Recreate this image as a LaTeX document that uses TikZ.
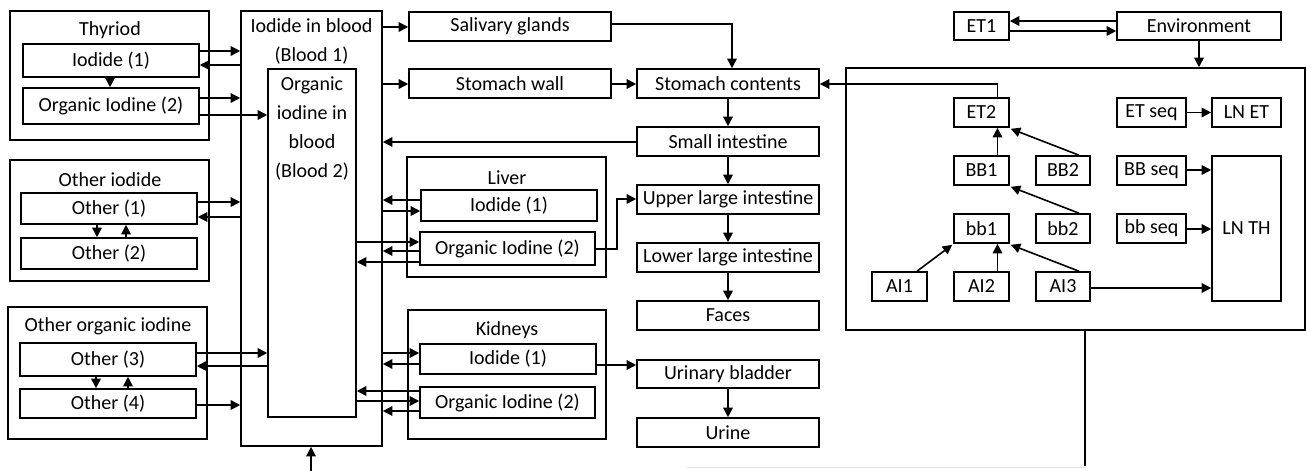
\documentclass[tikz,border=0pt]{standalone}
\usepackage{fontspec}
\setmainfont{Carlito}
\usetikzlibrary{arrows.meta,calc}
\tikzset{
 box/.style={draw, line width=1.6pt, inner sep=0pt, font=\fontsize{20}{23}\selectfont},
 grp/.style={draw, line width=1.6pt, inner sep=0pt},
 ttl/.style={inner sep=0pt, font=\fontsize{20}{23}\selectfont, align=center},
 arr/.style={line width=1.6pt, -{Triangle[length=9.5pt,width=9.5pt]}},
 ln/.style={line width=1.6pt},
 faint/.style={line width=1pt, draw=black!12},
}
\newcommand{\bx}[7][box]{\node[#1, minimum width={(#5-#3)*1pt}, minimum height={(#6-#4)*1pt}] (#2) at ({(#3+#5)/2},{(#4+#6)/2}) {#7};}
\begin{document}
\begin{tikzpicture}[x=1pt,y=-1pt]
\useasboundingbox (0,0) rectangle (1307,471);
% left groups
\bx[grp]{thy}{10}{11}{209}{140}{}
\node[ttl] (thyT) at (110,30) {Thyriod};
\bx{thI}{23}{44}{199}{77}{Iodide (1)}
\bx{thO}{23}{88}{199}{124}{Organic Iodine (2)}
\bx[grp]{oi}{10}{160}{209}{281}{}
\node[ttl] (oiT) at (110,180) {Other iodide};
\bx{o1}{21}{193}{197}{224}{Other (1)}
\bx{o2}{21}{238}{197}{269}{Other (2)}
\bx[grp]{ooi}{8}{307}{207}{439}{}
\node[ttl] (ooiT) at (108,326) {Other organic iodine};
\bx{o3}{20}{343}{196}{376}{Other (3)}
\bx{o4}{20}{389}{196}{418}{Other (4)}
% blood
\bx[grp]{blood}{241}{11}{382}{446}{}
\node[ttl, font=\fontsize{20}{29}\selectfont] (bloodT) at (311.5,41.5) {Iodide in blood\\(Blood 1)};
\bx[grp]{blood2}{268}{69}{356}{417}{}
\node[ttl, font=\fontsize{20}{29}\selectfont] (blood2T) at (312,128.5) {Organic\\iodine in\\blood\\(Blood 2)};
% middle column
\bx{sal}{409}{12}{611}{41}{Salivary glands}
\bx{sw}{409}{69}{611}{98}{Stomach wall}
\bx{sc}{637}{69}{819}{98}{Stomach contents}
\bx{si}{637}{127}{819}{156}{Small intestine}
\bx{uli}{637}{185}{819}{214}{Upper large intestine}
\bx{lli}{637}{243}{819}{272}{Lower large intestine}
\bx{fa}{637}{301}{819}{330}{Faces}
\bx{ub}{637}{360}{819}{388}{Urinary bladder}
\bx{ur}{637}{418}{819}{447}{Urine}
\bx[grp]{liv}{407}{157}{606}{277}{}
\node[ttl] (livT) at (507,178) {Liver};
\bx{lI}{421}{190}{597}{221}{Iodide (1)}
\bx{lO}{420}{232}{595}{265}{Organic Iodine (2)}
\bx[grp]{kid}{408}{310}{606}{439}{}
\node[ttl] (kidT) at (507,330) {Kidneys};
\bx{kI}{420}{344}{596}{374}{Iodide (1)}
\bx{kO}{420}{387}{595}{418}{Organic Iodine (2)}
% right part
\bx{et1}{954}{12}{1009}{40}{ET1}
\bx{env}{1117}{12}{1281}{40}{Environment}
\bx[grp]{resp}{846}{68}{1305}{330}{}
\bx{et2}{954}{98}{1009}{127}{ET2}
\bx{etseq}{1117}{98}{1186}{127}{ET seq}
\bx{lnet}{1212}{98}{1281}{127}{LN ET}
\bx{bb1}{954}{156}{1009}{185}{BB1}
\bx{bb2}{1036}{156}{1090}{185}{BB2}
\bx{bbseq}{1117}{156}{1186}{185}{BB seq}
\bx{lnth}{1212}{156}{1281}{301}{LN TH}
\bx{sbb1}{954}{214}{1009}{243}{bb1}
\bx{sbb2}{1036}{214}{1090}{243}{bb2}
\bx{sbbseq}{1117}{214}{1186}{243}{bb seq}
\bx{ai1}{872}{272}{927}{301}{AI1}
\bx{ai2}{954}{272}{1009}{301}{AI2}
\bx{ai3}{1036}{272}{1090}{301}{AI3}
% coordinates
\coordinate (bin) at (311,471);
\coordinate (rb) at (1085,466);
\coordinate (fl) at (687,467);
% thyroid arrows
\draw[arr] (thI.east |- 0,51) -- (blood.west |- 0,51);
\draw[arr] (blood.west |- 0,65) -- (thI.east |- 0,65);
\draw[arr] (thO.east |- 0,98) -- (blood.west |- 0,98);
\draw[arr] (thO.east |- 0,115) -- (blood2.west |- 0,115);
\draw[arr] (thI.south -| 110,0) -- (thO.north -| 110,0);
% other iodide
\draw[arr] (o1.east |- 0,202) -- (blood.west |- 0,202);
\draw[arr] (blood.west |- 0,217) -- (o1.east |- 0,217);
\draw[arr] (o1.south -| 97,0) -- (o2.north -| 97,0);
\draw[arr] (o2.north -| 126,0) -- (o1.south -| 126,0);
% other organic iodine
\draw[arr] (o3.east |- 0,353) -- (blood2.west |- 0,353);
\draw[arr] (blood2.west |- 0,366) -- (o3.east |- 0,366);
\draw[arr] (o4.east |- 0,405) -- (blood.west |- 0,405);
\draw[arr] (o3.south -| 96,0) -- (o4.north -| 96,0);
\draw[arr] (o4.north -| 128,0) -- (o3.south -| 128,0);
\draw[arr] (bin) -- (blood.south -| bin);
% blood right side
\draw[arr] (blood.east |- 0,27) -- (sal.west |- 0,27);
\draw[arr] (blood.east |- 0,84) -- (sw.west |- 0,84);
\draw[arr] (sw.east |- 0,84) -- (sc.west |- 0,84);
\draw[arr] (sal.east |- 0,24) -| ([xshift=4pt]sc.north);
\draw[arr] (sc.south) -- (si.north);
\draw[arr] (si.south) -- (uli.north);
\draw[arr] (uli.south) -- (lli.north);
\draw[arr] (lli.south) -- (fa.north);
\draw[arr] (ub.south) -- (ur.north);
\draw[arr] (si.west |- 0,142) -- (blood.east |- 0,142);
% liver
\draw[arr] (lI.west |- 0,200) -- (blood.east |- 0,200);
\draw[arr] (blood.east |- 0,211) -- (lI.west |- 0,211);
\draw[arr] (blood2.east |- 0,242) -- (lO.west |- 0,242);
\draw[arr] (lO.west |- 0,251) -- (blood.east |- 0,251);
\draw[arr] (lO.west |- 0,262) -- (blood2.east |- 0,262);
\draw[arr] (lO.east |- 0,249) -- ++(21,0) |- (uli.west |- 0,199);
% kidneys
\draw[arr] (blood.east |- 0,353) -- (kI.west |- 0,353);
\draw[arr] (kI.west |- 0,364) -- (blood.east |- 0,364);
\draw[arr] (kO.west |- 0,391) -- (blood2.east |- 0,391);
\draw[arr] (blood2.east |- 0,401) -- (kO.west |- 0,401);
\draw[arr] (kO.west |- 0,411) -- (blood.east |- 0,411);
\draw[arr] (kI.east |- 0,365) -- (ub.west |- 0,365);
% right part
\draw[arr] (env.west |- 0,21) -- (et1.east |- 0,21);
\draw[arr] (et1.east |- 0,31) -- (env.west |- 0,31);
\draw[arr] (env.south -| 1199,0) -- (resp.north -| 1199,0);
\draw[arr] ([xshift=16pt]et2.north) |- (sc.east |- 0,84);
\draw[arr] ([xshift=16pt]bb1.north) -- ([xshift=16pt]et2.south);
\draw[arr] ([xshift=16pt]bb2.north) -- ([xshift=1pt,yshift=-1pt]et2.south east);
\draw[arr] ([xshift=16pt]sbb2.north) -- ([xshift=1pt,yshift=-1pt]bb1.south east);
\draw[arr] ([xshift=17.5pt]ai1.north) -- ([xshift=-1pt,yshift=-1pt]sbb1.south west);
\draw[arr] ([xshift=16pt]ai2.north) -- ([xshift=16pt]sbb1.south);
\draw[arr] ([xshift=16pt]ai3.north) -- ([xshift=1pt,yshift=-1pt]sbb1.south east);
\draw[arr] (ai3.east |- 0,288) -- (lnth.west |- 0,288);
\draw[arr] (etseq.east) -- (lnet.west);
\draw[arr] (bbseq.east |- 0,170) -- (lnth.west |- 0,170);
\draw[arr] (sbbseq.east |- 0,229) -- (lnth.west |- 0,229);
\draw[ln] (resp.south -| rb) -- (rb);
\draw[faint] (fl) -- (rb |- fl);
\end{tikzpicture}
\end{document}
